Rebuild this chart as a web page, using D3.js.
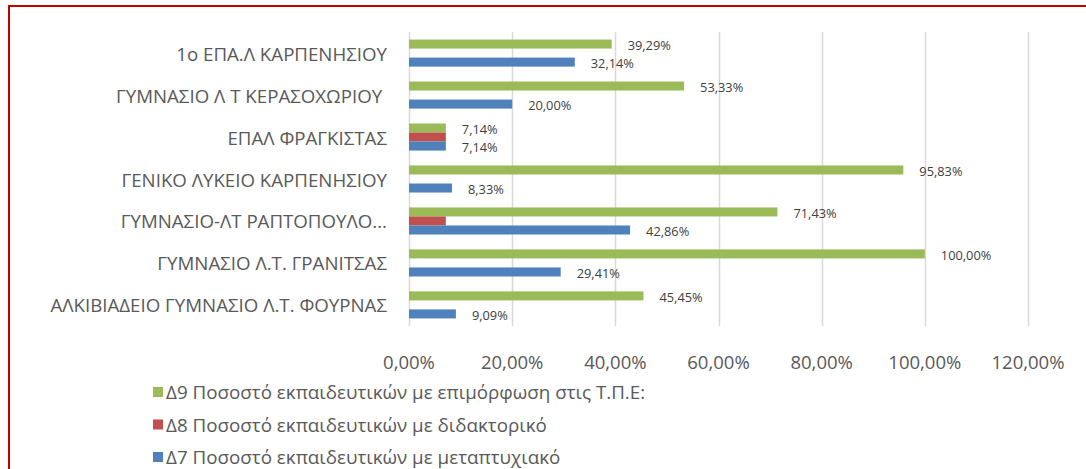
<!DOCTYPE html>
<html>
<head>
<meta charset="utf-8">
<script src="https://cdn.jsdelivr.net/npm/d3@7"></script>
<style>
  html, body { margin: 0; padding: 0; background: #fff; }
  svg text { font-family: "Open Sans", "Noto Sans", sans-serif; }
</style>
</head>
<body>
<div id="chart"></div>
<script>
// categories, top to bottom
var categories = [
  "1ο ΕΠΑ.Λ ΚΑΡΠΕΝΗΣΙΟΥ",
  "ΓΥΜΝΑΣΙΟ Λ Τ ΚΕΡΑΣΟΧΩΡΙΟΥ ",
  "ΕΠΑΛ ΦΡΑΓΚΙΣΤΑΣ",
  "ΓΕΝΙΚΟ ΛΥΚΕΙΟ ΚΑΡΠΕΝΗΣΙΟΥ",
  "ΓΥΜΝΑΣΙΟ-ΛΤ ΡΑΠΤΟΠΟΥΛΟ...",
  "ΓΥΜΝΑΣΙΟ Λ.Τ. ΓΡΑΝΙΤΣΑΣ",
  "ΑΛΚΙΒΙΑΔΕΙΟ ΓΥΜΝΑΣΙΟ Λ.Τ. ΦΟΥΡΝΑΣ"
];
var d9Values = [0.3929, 0.5333, 0.0714, 0.9583, 0.7143, 1.0000, 0.4545];
var d8Values = [0, 0, 0.0714, 0, 0.0714, 0, 0];
var d7Values = [0.3214, 0.2000, 0.0714, 0.0833, 0.4286, 0.2941, 0.0909];
var xTicks = [0, 0.2, 0.4, 0.6, 0.8, 1.0, 1.2];

var seriesNames = [
  "Δ9 Ποσοστό εκπαιδευτικών με επιμόρφωση στις Τ.Π.Ε:",
  "Δ8 Ποσοστό εκπαιδευτικών με διδακτορικό",
  "Δ7 Ποσοστό εκπαιδευτικών με μεταπτυχιακό"
];
var seriesColors = ["#9bbb59", "#c0504d", "#4f81bd"];
var seriesLabels = [true, false, true];

var width = 1086, height = 469;
var plot = { left: 409, right: 1028, top: 32, bottom: 326 };

var locale = d3.formatLocale({ decimal: ",", thousands: ".", grouping: [3], currency: ["", "€"] });
var fmt = locale.format(".2%");

var series = [d9Values, d8Values, d7Values].map(function(vals, i) {
  return { name: seriesNames[i], color: seriesColors[i], label: seriesLabels[i],
    values: vals.map(function(v, j) { return { cat: categories[j], value: v }; }) };
});

var svg = d3.select("#chart").append("svg")
  .attr("width", width)
  .attr("height", height);

// outer frame (clipped at right/bottom)
svg.append("rect")
  .attr("x", 9).attr("y", 6)
  .attr("width", width + 20).attr("height", height + 20)
  .attr("fill", "#fff")
  .attr("stroke", "#c00000")
  .attr("stroke-width", 2);

var x = d3.scaleLinear().domain([0, 1.2]).range([plot.left, plot.right]);
var y = d3.scaleBand().domain(categories).range([plot.top, plot.bottom]).paddingInner(0.355).paddingOuter(0.18);
var yInner = d3.scaleBand().domain(d3.range(3)).range([0, y.bandwidth()]);

// gridlines
svg.append("g").selectAll("line")
  .data(xTicks)
  .enter().append("line")
  .attr("x1", function(d) { return Math.round(x(d)) + 0.5; })
  .attr("x2", function(d) { return Math.round(x(d)) + 0.5; })
  .attr("y1", plot.top)
  .attr("y2", plot.bottom)
  .attr("stroke", "#d9d9d9")
  .attr("stroke-width", 1.5);

// tick labels
svg.append("g").selectAll("text")
  .data(xTicks)
  .enter().append("text")
  .attr("x", function(d) { return x(d); })
  .attr("y", 361)
  .attr("text-anchor", "middle")
  .attr("dominant-baseline", "central")
  .attr("font-size", "18.5px")
  .attr("fill", "#595959")
  .text(function(d) { return fmt(d); });

// category labels
svg.append("g").selectAll("text")
  .data(categories)
  .enter().append("text")
  .attr("x", 387)
  .attr("y", function(d) { return y(d) + y.bandwidth() / 2; })
  .attr("text-anchor", "end")
  .attr("dominant-baseline", "central")
  .attr("font-size", "18.7px")
  .attr("fill", "#595959")
  .style("white-space", "pre")
  .text(function(d) { return d; });

// bars
var gSeries = svg.append("g").selectAll("g")
  .data(series)
  .enter().append("g")
  .attr("fill", function(d) { return d.color; });

gSeries.each(function(s, i) {
  var g = d3.select(this);
  var vals = s.values.filter(function(d) { return d.value > 0; });
  g.selectAll("rect")
    .data(vals)
    .enter().append("rect")
    .attr("x", x(0))
    .attr("y", function(d) { return y(d.cat) + yInner(i); })
    .attr("width", function(d) { return x(d.value) - x(0); })
    .attr("height", yInner.bandwidth());
  if (s.label) {
    g.selectAll("text")
      .data(vals)
      .enter().append("text")
      .attr("x", function(d) { return x(d.value) + 16; })
      .attr("y", function(d) { return y(d.cat) + yInner(i) + yInner.bandwidth() / 2 + 1; })
      .attr("dominant-baseline", "central")
      .attr("font-size", "12.8px")
      .attr("fill", "#404040")
      .text(function(d) { return fmt(d.value); });
  }
});

// legend
var legend = svg.append("g").selectAll("g")
  .data(series)
  .enter().append("g")
  .attr("transform", function(d, i) { return "translate(153," + (392 + i * 32.5) + ")"; });

legend.append("rect")
  .attr("x", 0).attr("y", -5)
  .attr("width", 10).attr("height", 10)
  .attr("fill", function(d) { return d.color; });

legend.append("text")
  .attr("x", 13)
  .attr("y", 0)
  .attr("dominant-baseline", "central")
  .attr("font-size", "18.8px")
  .attr("fill", "#595959")
  .text(function(d) { return d.name; });
</script>
</body>
</html>
